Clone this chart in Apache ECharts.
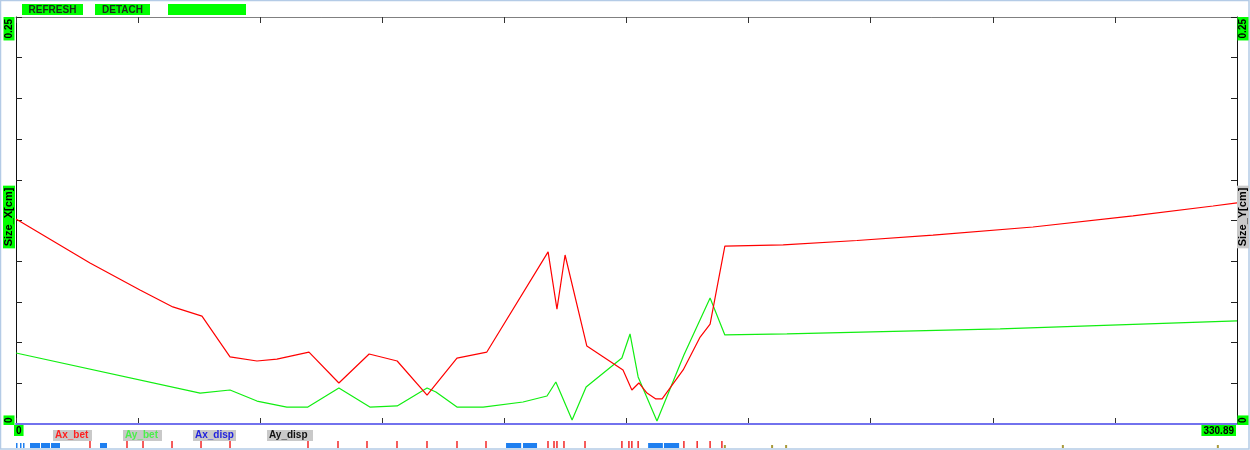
<!DOCTYPE html>
<html>
<head>
<meta charset="utf-8">
<script src="https://cdn.jsdelivr.net/npm/echarts@6/dist/echarts.min.js"></script>
<style>
  html, body { margin: 0; padding: 0; background: #ffffff; }
  #chart { width: 1250px; height: 450px; }
</style>
</head>
<body>
<div id="chart"></div>
<script>
// Beam envelope along the line: horizontal / vertical beta sizes and dispersion terms
const sAxBet = [0, 20.05, 33.6, 42.5, 50.4, 58.0, 65.3, 70.7, 79.4, 87.5, 95.7, 103.3, 111.4, 119.5, 127.6,
  144.2, 146.6, 148.8, 154.7, 164.5, 166.9, 168.8, 171.0, 173.4, 175.1, 180.8, 185.4, 188.1, 192.1,
  207.9, 227.9, 248.5, 275.6, 302.7, 324.4, 330.89];
const axBet = [0.1259, 0.0989, 0.0823, 0.0719, 0.0663, 0.0412, 0.0387, 0.0399, 0.0442, 0.0252, 0.0430, 0.0387, 0.0178, 0.0405, 0.0442,
  0.1057, 0.0706, 0.1038, 0.0479, 0.0332, 0.0209, 0.0252, 0.0190, 0.0154, 0.0154, 0.0332, 0.0534, 0.0614, 0.1093,
  0.1100, 0.1127, 0.1160, 0.1210, 0.1278, 0.1339, 0.1358];

const sAyBet = [0, 49.9, 58.0, 65.3, 73.4, 79.1, 87.5, 95.9, 103.3, 111.4, 113.8, 119.5, 126.6, 137.4,
  143.9, 146.3, 150.7, 154.5, 164.2, 166.4, 168.6, 173.7, 181.0, 188.1, 192.1, 208.9, 266.7, 330.89];
const ayBet = [0.0436, 0.0190, 0.0209, 0.0141, 0.0104, 0.0104, 0.0221, 0.0104, 0.0111, 0.0221, 0.0197, 0.0104, 0.0104, 0.0135,
  0.0172, 0.0258, 0.0025, 0.0227, 0.0405, 0.0553, 0.0289, 0.0018, 0.0424, 0.0774, 0.0547, 0.0553, 0.0584, 0.0633];

const sDisp = [0, 330.89];
const axDisp = [0, 0];
const ayDisp = [0, 0];

// Lattice elements drawn in the strip under the plot
const quadRanges = [[0, 0.27], [1.08, 1.49], [1.9, 2.3], [3.79, 6.5], [6.78, 9.21], [9.49, 11.92], [22.76, 24.66],
  [132.8, 136.9], [137.4, 141.2], [171.3, 175.3], [175.6, 179.7]];
const kickerPos = [20.05, 30.08, 34.42, 42.28, 50.14, 58.0, 79.13, 87.26, 95.12, 103.25, 111.38, 119.51, 127.37,
  144.17, 145.8, 146.6, 148.5, 154.2, 164.2, 166.1, 166.9, 168.6, 181.0, 184.6, 188.1, 191.3];
const markerPos = [192.1, 204.9, 208.7, 283.7, 325.7];

// Axis ranges and the end labels
const sMin = 0, sMax = 330.89;
const sizeMin = 0, sizeMax = 0.25;
const xEndLabels = ['0', '330.89'];
const yEndLabels = ['0', '0.25'];
const yTitles = ['Size_X[cm]', 'Size_Y[cm]'];
const buttonLabels = ['REFRESH', 'DETACH', ''];
const seriesNames = ['Ax_bet', 'Ay_bet', 'Ax_disp', 'Ay_disp'];

const pairs = (xs, ys) => xs.map((x, i) => [x, ys[i]]);

const LIME = '#00ff00';
const GREYBG = '#c9c9c9';
const FONT = '"Liberation Sans", Arial, sans-serif';

const chart = echarts.init(document.getElementById('chart'), null, { renderer: 'canvas' });

function vText(x, y, text, align, bg, size) {
  return {
    type: 'text', x: x, y: y, rotation: Math.PI / 2, z: 100,
    style: {
      text: text, fill: '#000', font: 'bold ' + (size || 10) + 'px ' + FONT,
      align: align, verticalAlign: 'middle',
      backgroundColor: bg, padding: [1, 2, 0, 2]
    }
  };
}

function button(x, w, text) {
  return {
    type: 'group', x: x, y: 4, z: 100,
    children: [
      { type: 'rect', shape: { x: 0, y: 0, width: w, height: 11 }, style: { fill: LIME } },
      { type: 'text', x: w / 2, y: 6, style: { text: text, fill: '#1a2a1a', font: 'bold 10px ' + FONT, align: 'center', verticalAlign: 'middle' } }
    ]
  };
}

const legendStyles = [
  { color: '#ff2020', width: 35 },
  { color: '#4cee4c', width: 35 },
  { color: '#2222dd', width: 39 },
  { color: '#111111', width: 42 }
];

function elementItem(kind) {
  return function (params, api) {
    if (kind === 'quad') {
      const a = api.coord([api.value(0), 0]);
      const b = api.coord([api.value(1), 0]);
      return { type: 'rect', shape: { x: a[0], y: 443, width: Math.max(1.5, b[0] - a[0]), height: 5 }, style: { fill: '#1e7ff0' } };
    }
    if (kind === 'kick') {
      const a = api.coord([api.value(0), 0]);
      return { type: 'rect', shape: { x: a[0] - 0.75, y: 441, width: 1.5, height: 7 }, style: { fill: 'rgba(240,0,0,0.85)' } };
    }
    const a = api.coord([api.value(0), 0]);
    return { type: 'rect', shape: { x: a[0] - 1, y: 445, width: 2, height: 3 }, style: { fill: '#a89a3a' } };
  };
}

const option = {
  backgroundColor: '#ffffff',
  animation: false,
  legend: {
    left: 43, top: 425, icon: 'none', itemWidth: 0, itemHeight: 10, itemGap: 26,
    selectedMode: false,
    textStyle: { fontFamily: 'Liberation Sans', fontWeight: 700, fontSize: 10 },
    data: seriesNames.map((n, i) => ({
      name: n,
      textStyle: {
        color: legendStyles[i].color, width: legendStyles[i].width, align: 'center',
        backgroundColor: GREYBG, padding: [1, 2, 0, 2],
        fontFamily: 'Liberation Sans', fontWeight: 700, fontSize: 10
      }
    }))
  },
  grid: [
    { left: 16, right: 13, top: 17, height: 407, containLabel: false },
    { left: 16, right: 13, top: 441, height: 7 }
  ],
  xAxis: [
    {
      type: 'value', gridIndex: 0, min: sMin, max: sMax, interval: (sMax - sMin) / 10, position: 'bottom',
      axisLine: { show: true, onZero: false, lineStyle: { color: '#7272ee', width: 2 } },
      axisTick: { show: true, inside: true, length: 6, lineStyle: { color: '#333' } },
      axisLabel: { show: false }, splitLine: { show: false }
    },
    {
      type: 'value', gridIndex: 0, min: sMin, max: sMax, interval: (sMax - sMin) / 10, position: 'top',
      axisLine: { show: true, onZero: false, lineStyle: { color: '#808080', width: 1 } },
      axisTick: { show: true, inside: true, length: 6, lineStyle: { color: '#333' } },
      axisLabel: { show: false }, splitLine: { show: false }
    },
    { type: 'value', gridIndex: 1, min: sMin, max: sMax, show: false }
  ],
  yAxis: [
    {
      type: 'value', gridIndex: 0, min: sizeMin, max: sizeMax, interval: 0.025, position: 'left',
      axisLine: { show: true, onZero: false, lineStyle: { color: '#111', width: 1 } },
      axisTick: { show: true, inside: true, length: 6, lineStyle: { color: '#222' } },
      axisLabel: { show: false }, splitLine: { show: false }
    },
    {
      type: 'value', gridIndex: 0, min: sizeMin, max: sizeMax, interval: 0.025, position: 'right',
      axisLine: { show: true, onZero: false, lineStyle: { color: '#111', width: 1 } },
      axisTick: { show: true, inside: true, length: 6, lineStyle: { color: '#222' } },
      axisLabel: { show: false }, splitLine: { show: false }
    },
    { type: 'value', gridIndex: 1, min: 0, max: 1, show: false }
  ],
  series: [
    {
      name: seriesNames[0], type: 'line', xAxisIndex: 0, yAxisIndex: 0, data: pairs(sAxBet, axBet),
      showSymbol: false, symbol: 'none', color: '#ff0000', lineStyle: { color: '#ff0000', width: 1.2 }, z: 5
    },
    {
      name: seriesNames[1], type: 'line', xAxisIndex: 0, yAxisIndex: 0, data: pairs(sAyBet, ayBet),
      showSymbol: false, symbol: 'none', color: '#00ee00', lineStyle: { color: '#11ee11', width: 1.2 }, z: 4
    },
    {
      name: seriesNames[2], type: 'line', xAxisIndex: 0, yAxisIndex: 0, data: pairs(sDisp, axDisp),
      showSymbol: false, symbol: 'none', clip: false, color: '#7272ee', lineStyle: { color: '#7272ee', width: 2 }, z: 3
    },
    {
      name: seriesNames[3], type: 'line', xAxisIndex: 0, yAxisIndex: 0, data: pairs(sDisp, ayDisp),
      showSymbol: false, symbol: 'none', clip: false, color: '#222222', lineStyle: { color: '#222222', width: 1 }, z: 2
    },
    {
      type: 'custom', xAxisIndex: 2, yAxisIndex: 2, data: quadRanges, renderItem: elementItem('quad'), silent: true
    },
    {
      type: 'custom', xAxisIndex: 2, yAxisIndex: 2, data: kickerPos.map(s => [s]), renderItem: elementItem('kick'), silent: true
    },
    {
      type: 'custom', xAxisIndex: 2, yAxisIndex: 2, data: markerPos.map(s => [s]), renderItem: elementItem('mark'), silent: true
    }
  ],
  graphic: [
    // window frame
    { type: 'rect', shape: { x: 0.5, y: 0.5, width: 1248.5, height: 448.5 }, style: { fill: 'none', stroke: '#b4cbe6', lineWidth: 1.5 }, z: 1 },
    button(22, 61, buttonLabels[0]),
    button(95, 55, buttonLabels[1]),
    button(168, 78, buttonLabels[2]),
    // vertical end labels and titles
    vText(9, 17, yEndLabels[1], 'right', LIME),
    vText(9, 425, yEndLabels[0], 'left', LIME),
    vText(1243, 17, yEndLabels[1], 'right', LIME),
    vText(1243, 425, yEndLabels[0], 'left', LIME),
    vText(9, 217, yTitles[0], 'center', LIME, 11),
    vText(1243, 217, yTitles[1], 'center', GREYBG, 11),
    // horizontal end labels
    {
      type: 'text', x: 14, y: 425, z: 100,
      style: { text: xEndLabels[0], fill: '#000', font: 'bold 10px ' + FONT, align: 'left', verticalAlign: 'top', backgroundColor: LIME, padding: [1, 2, 0, 2] }
    },
    {
      type: 'text', x: 1236, y: 425, z: 100,
      style: { text: xEndLabels[1], fill: '#000', font: 'bold 10px ' + FONT, align: 'right', verticalAlign: 'top', backgroundColor: LIME, padding: [1, 2, 0, 2] }
    }
  ]
};

chart.setOption(option);
</script>
</body>
</html>
